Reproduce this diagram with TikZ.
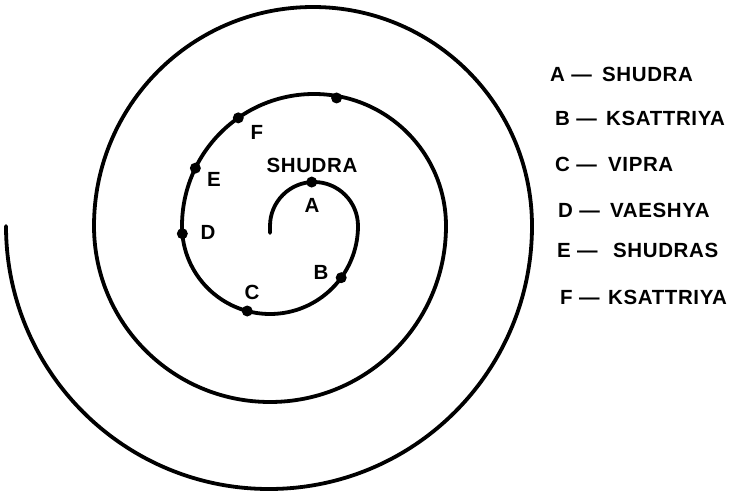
\documentclass[tikz,border=0pt]{standalone}
\usepackage{fontspec}
\newfontfamily\keyfont[LetterSpace=3]{Liberation Sans}
\usetikzlibrary{calc}

\begin{document}
\begin{tikzpicture}[x=1pt, y=-1pt,
   font=\keyfont\bfseries\fontsize{20.5}{24}\selectfont,
   spiral/.style={line width=3.8pt, line cap=round},
   dot/.style={circle, fill, inner sep=0pt, minimum size=11pt},
   lbl/.style={inner sep=0pt},
   key/.style={inner sep=0pt, anchor=west}]
  \useasboundingbox (0,0) rectangle (731,492);
  % centres of the upper and lower half turns
  \coordinate (up) at (314,226);
  \coordinate (lo) at (270,226);
  \coordinate (start) at (270,233);
  \draw[spiral] (start) -- (270,226)
    arc[start angle=180, end angle=360, radius=44]
    arc[start angle=0,   end angle=180, radius=88]
    arc[start angle=180, end angle=360, radius=132]
    arc[start angle=0,   end angle=180, radius=176]
    arc[start angle=180, end angle=360, radius=219]
    arc[start angle=0,   end angle=180, radius=263];
  % points on the spiral
  \node[dot] (dA) at ([shift={(up)}]267:44) {};
  \node[dot] (dB) at ([shift={(lo)}]36:88) {};
  \node[dot] (dC) at ([shift={(lo)}]105:88) {};
  \node[dot] (dD) at ([shift={(lo)}]175:88) {};
  \node[dot] (dE) at ([shift={(up)}]206:132) {};
  \node[dot] (dF) at ([shift={(up)}]235:132) {};
  \node[dot] (dtop) at ([shift={(up)}]280:130) {};
  % letters
  \node[lbl] (A) at (312,205) {A};
  \node[lbl] (B) at (321,272) {B};
  \node[lbl] (C) at (252,292) {C};
  \node[lbl] (D) at (208,232) {D};
  \node[lbl] (E) at (214,179) {E};
  \node[lbl] (F) at (257,132) {F};
  \node[lbl] (shudra) at (312,165) {SHUDRA};
  % key
  \foreach \ltr/\xl/\xw/\yy/\nm in {A/550/602/74/SHUDRA, B/555/606/118/KSATTRIYA,
      C/555/608/164/VIPRA, D/558/610/210/VAESHYA, E/557/613/250/SHUDRAS,
      F/560/608/297/KSATTRIYA}{
    \node[key] (key\ltr) at (\xl,\yy) {\ltr{} —};
    \node[key] (name\ltr) at (\xw,\yy) {\nm};
  }
\end{tikzpicture}
\end{document}
